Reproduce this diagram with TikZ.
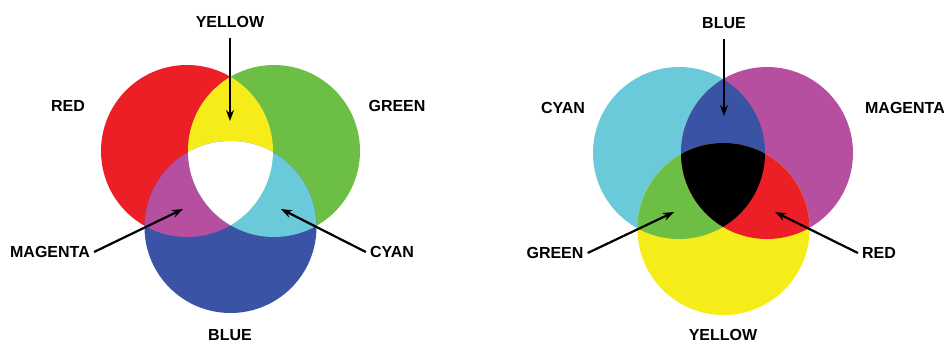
\documentclass[tikz,border=0pt]{standalone}
\usepackage{fontspec}
\setmainfont{Liberation Sans}
\usetikzlibrary{arrows.meta}

\definecolor{kred}{RGB}{236,30,38}
\definecolor{kgreen}{RGB}{108,190,69}
\definecolor{kblue}{RGB}{58,83,164}
\definecolor{kyellow}{RGB}{245,236,25}
\definecolor{kmagenta}{RGB}{183,79,160}
\definecolor{kcyan}{RGB}{107,202,218}

\begin{document}
\begin{tikzpicture}[x=1bp, y=-1bp,
			>={Stealth[length=11bp, width=8bp]},
			lamp/.style={circle, minimum size=172bp, inner sep=0pt},
			lbl/.style={font=\bfseries\fontsize{16bp}{19bp}\selectfont, inner sep=4bp},
			pijl/.style={->, line width=2.2bp}
			]
			\useasboundingbox (0,0) rectangle (944,345);
			
			% Links: additief mengen (licht)
			\node[lamp, fill=kred]   (R1) at (187,151) {};
			\node[lamp, fill=kgreen] (G1) at (274,151) {};
			\node[lamp, fill=kblue]  (B1) at (230.5,227) {};
			\begin{scope}
				\clip (R1.center) circle (86);
				\fill[kyellow] (G1.center) circle (86);
				\fill[kmagenta] (B1.center) circle (86);
			\end{scope}
			\begin{scope}
				\clip (G1.center) circle (86);
				\fill[kcyan] (B1.center) circle (86);
				\clip (R1.center) circle (86);
				\fill[white] (B1.center) circle (86);
			\end{scope}
			
			% Rechts: subtractief mengen (pigment)
			\node[lamp, fill=kcyan]    (C2) at (679,153) {};
			\node[lamp, fill=kmagenta] (M2) at (767,153) {};
			\node[lamp, fill=kyellow]  (Y2) at (723.5,229) {};
			\begin{scope}
				\clip (C2.center) circle (86);
				\fill[kblue] (M2.center) circle (86);
				\fill[kgreen] (Y2.center) circle (86);
			\end{scope}
			\begin{scope}
				\clip (M2.center) circle (86);
				\fill[kred] (Y2.center) circle (86);
				\clip (C2.center) circle (86);
				\fill[black] (Y2.center) circle (86);
			\end{scope}
			
			% Labels links
			\node[lbl] (yellow1)  at (230,22)  {YELLOW};
			\node[lbl] (red1)     at (68,106)  {RED};
			\node[lbl] (green1)   at (397,106) {GREEN};
			\node[lbl] (magenta1) at (50,252)  {MAGENTA};
			\node[lbl] (cyan1)    at (392,252) {CYAN};
			\node[lbl] (blue1)    at (230,335) {BLUE};
			
			\coordinate (ypt1) at (230,121);
			\coordinate (mpt1) at (183,209);
			\coordinate (cpt1) at (281,209);
			
			\draw[pijl, shorten <=6bp] (yellow1.south) -- (ypt1);
			\draw[pijl] (magenta1.east) -- (mpt1);
			\draw[pijl] (cyan1.west) -- (cpt1);
			
			% Labels rechts
			\node[lbl] (blue2)    at (724,23)  {BLUE};
			\node[lbl] (cyan2)    at (563,108) {CYAN};
			\node[lbl] (magenta2) at (905,108) {MAGENTA};
			\node[lbl] (green2)   at (555,253) {GREEN};
			\node[lbl] (red2)     at (879,253) {RED};
			\node[lbl] (yellow2)  at (723,335) {YELLOW};
			
			\coordinate (bpt2) at (724,116);
			\coordinate (gpt2) at (674,212);
			\coordinate (rpt2) at (775,212);
			
			\draw[pijl, shorten <=6bp] (blue2.south) -- (bpt2);
			\draw[pijl] (green2.east) -- (gpt2);
			\draw[pijl] (red2.west) -- (rpt2);
			
		\end{tikzpicture}
\end{document}
